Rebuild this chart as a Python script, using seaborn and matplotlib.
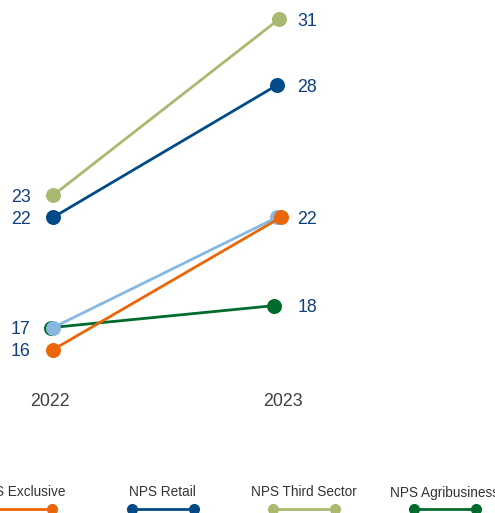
import matplotlib
matplotlib.use("Agg")
import matplotlib.pyplot as plt
from matplotlib.lines import Line2D
import pandas as pd
import seaborn as sns

# --- data -------------------------------------------------------------
years = ["2022", "2023"]
series = ["NPS Agribusiness", "NPS Overall", "NPS Exclusive", "NPS Retail", "NPS Third Sector"]
agribusiness = [17, 18]
overall = [17, 22]
exclusive = [16, 22]
retail = [22, 28]
third_sector = [23, 31]
legend_entries = ["NPS Exclusive", "NPS Retail", "NPS Third Sector", "NPS Agribusiness"]

colors = {
    "NPS Agribusiness": "#006B2D",
    "NPS Overall": "#86B8E2",
    "NPS Exclusive": "#EB6608",
    "NPS Retail": "#004B87",
    "NPS Third Sector": "#A8BA70",
}
# small horizontal nudge so overlapping markers stay visible
nudge = {
    "NPS Agribusiness": (-0.011, -0.012),
    "NPS Overall": (0.0, 0.0),
    "NPS Exclusive": (0.0, 0.017),
    "NPS Retail": (0.0, 0.0),
    "NPS Third Sector": (0.0, 0.01),
}

values = dict(zip(series, [agribusiness, overall, exclusive, retail, third_sector]))
rows = []
for name in series:
    for i, yr in enumerate(years):
        rows.append({"series": name, "year": yr, "pos": i + nudge[name][i], "value": values[name][i]})
df = pd.DataFrame(rows)

# --- figure -----------------------------------------------------------
sns.set_theme(style="white")
plt.rcParams["font.family"] = ["Liberation Sans", "DejaVu Sans"]

W, H = 495, 513
fig = plt.figure(figsize=(W / 100, H / 100), dpi=100)
ax = fig.add_axes([0, 0, 1, 1])

sns.lineplot(
    data=df, x="pos", y="value", hue="series", hue_order=series,
    palette=colors, marker="o", markersize=10.8, markeredgewidth=0,
    linewidth=2.0, sort=False, legend=False, ax=ax,
)

x0_px, x1_px = 53, 277
px_x = x1_px - x0_px
ax.set_xlim(-x0_px / px_x, (W - x0_px) / px_x)
y_top_px, y_bot_px = 19, 349.7
px_y = (y_bot_px - y_top_px) / (31 - 16)
ax.set_ylim(31 - (H - y_top_px) / px_y, 31 + y_top_px / px_y)
ax.axis("off")

label_color = "#0E3F7C"
fs_val = 12.8
for i, side in enumerate(years):
    shown = sorted({values[n][i] for n in series})
    for v in shown:
        if i == 0:
            ax.annotate(str(v), xy=(0, v), xytext=(-16, -1.5), textcoords="offset points",
                        ha="right", va="center", fontsize=fs_val, color=label_color)
        else:
            ax.annotate(str(v), xy=(1, v), xytext=(14.5, -1.5), textcoords="offset points",
                        ha="left", va="center", fontsize=fs_val, color=label_color)

# year labels under each column
for i, yr in enumerate(years):
    dx = (-2.5, 4.5)[i]
    ax.annotate(yr, xy=(i, 1 - 402 / H), xycoords=("data", "figure fraction"),
                xytext=(dx, 0), textcoords="offset points",
                ha="center", va="center", fontsize=12.8, color="#404040")

# legend: label above a short line with a dot at each end
centers = [21, 162.5, 303.5, 445]
half = 31
for name, cx in zip(legend_entries, centers):
    fig.text(cx / W, 1 - 492.5 / H, name, ha="center", va="center",
             fontsize=9.8, color="#333333")
    fig.add_artist(Line2D([(cx - half) / W, (cx + half) / W], [1 - 509 / H] * 2,
                          transform=fig.transFigure, color=colors[name], linewidth=2.0,
                          marker="o", markersize=8, markeredgewidth=0))

fig.savefig("out.png", dpi=100, facecolor="white")
